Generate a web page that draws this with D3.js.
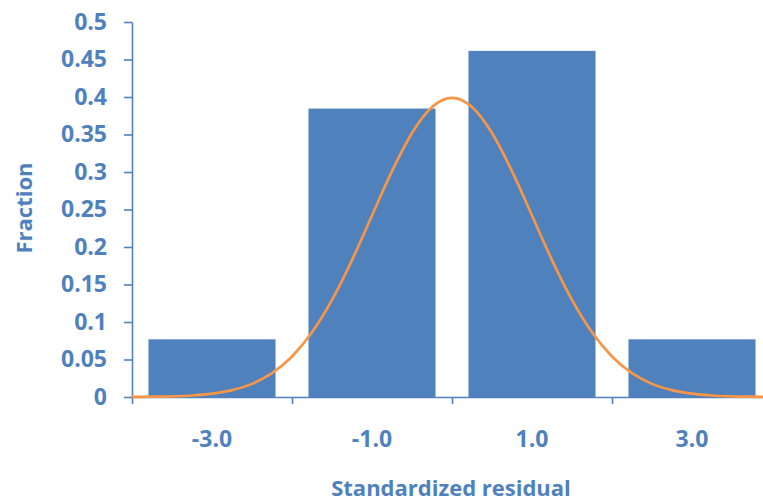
<!DOCTYPE html>
<html>
<head>
<meta charset="utf-8">
<script src="https://cdn.jsdelivr.net/npm/d3@7"></script>
<style>
  html, body { margin: 0; padding: 0; background: #fff; }
  svg { display: block; }
  text { font-family: "Open Sans", Lato, sans-serif; font-weight: bold; fill: #4F81BD; }
</style>
</head>
<body>
<svg id="chart" width="763" height="504"></svg>
<script>
// Histogram of standardized residuals with a normal density overlay
const categories = ["-3.0", "-1.0", "1.0", "3.0"];
const fractions = [0.0769, 0.3846, 0.4615, 0.0769];
const yTicks = [0, 0.05, 0.1, 0.15, 0.2, 0.25, 0.3, 0.35, 0.4, 0.45, 0.5];
const xBoundaries = [-4, -2, 0, 2, 4];
const curveX = [-4, -3.75, -3.5, -3.25, -3, -2.75, -2.5, -2.25, -2, -1.75, -1.5, -1.25, -1, -0.75, -0.5, -0.25,
                0, 0.25, 0.5, 0.75, 1, 1.25, 1.5, 1.75, 2, 2.25, 2.5, 2.75, 3, 3.25, 3.5, 3.75, 4];
const curveY = [0.0001, 0.0004, 0.0009, 0.002, 0.0044, 0.0091, 0.0175, 0.0317, 0.054, 0.0863, 0.1295, 0.1826,
                0.242, 0.3011, 0.3521, 0.3867, 0.3989, 0.3867, 0.3521, 0.3011, 0.242, 0.1826, 0.1295, 0.0863,
                0.054, 0.0317, 0.0175, 0.0091, 0.0044, 0.002, 0.0009, 0.0004, 0.0001];

const blue = "#4F81BD";
const orange = "#F79646";
const fontSize = 23;
const fontFamily = "'Open Sans', Lato, sans-serif";

const svg = d3.select("#chart");
const plotLeft = 132, plotRight = 772, plotTop = 22, plotBottom = 397;

const xLin = d3.scaleLinear().domain([-4, 4]).range([plotLeft, plotRight]);
const xBand = d3.scaleBand().domain(categories).range([plotLeft, plotRight])
  .paddingInner(0.206).paddingOuter(0.103);
const y = d3.scaleLinear().domain([0, 0.5]).range([plotBottom, plotTop]);

// bars
svg.append("g").selectAll("rect").data(categories).join("rect")
  .attr("x", d => xBand(d))
  .attr("width", xBand.bandwidth())
  .attr("y", (d, i) => y(fractions[i]))
  .attr("height", (d, i) => y(0) - y(fractions[i]))
  .attr("fill", blue);

// y axis
const fmt = v => v === 0 ? "0" : String(+v.toFixed(2));
const yAxis = svg.append("g").attr("transform", `translate(${plotLeft},0)`)
  .call(d3.axisLeft(y).tickValues(yTicks).tickFormat(fmt).tickSize(8).tickPadding(17).tickSizeOuter(0));
yAxis.select(".domain").attr("stroke", blue).attr("stroke-width", 1.6);
yAxis.selectAll(".tick line").attr("stroke", blue).attr("stroke-width", 1.6);
yAxis.selectAll(".tick text").attr("font-size", fontSize).attr("fill", blue)
  .attr("font-family", fontFamily).attr("font-weight", "bold");

// x axis (boundary ticks only)
const xAxis = svg.append("g").attr("transform", `translate(0,${plotBottom})`)
  .call(d3.axisBottom(xLin).tickValues(xBoundaries).tickFormat("").tickSize(7).tickSizeOuter(0));
xAxis.select(".domain").attr("stroke", blue).attr("stroke-width", 1.6);
xAxis.selectAll(".tick line").attr("stroke", blue).attr("stroke-width", 1.6);

// category labels
svg.append("g").selectAll("text").data(categories).join("text")
  .attr("x", d => xBand(d) + xBand.bandwidth() / 2)
  .attr("y", 447)
  .attr("text-anchor", "middle")
  .attr("font-size", fontSize)
  .text(d => d);

// normal density curve
const line = d3.line()
  .x(d => xLin(d))
  .y((d, i) => y(curveY[i]))
  .curve(d3.curveMonotoneX);
svg.append("path")
  .attr("d", line(curveX))
  .attr("fill", "none")
  .attr("stroke", orange)
  .attr("stroke-width", 2.7);

// axis titles
svg.append("text")
  .attr("transform", "translate(32,208) rotate(-90)")
  .attr("text-anchor", "middle")
  .attr("font-size", 22)
  .text("Fraction");
svg.append("text")
  .attr("x", 451).attr("y", 496)
  .attr("text-anchor", "middle")
  .attr("font-size", 22)
  .text("Standardized residual");
</script>
</body>
</html>
